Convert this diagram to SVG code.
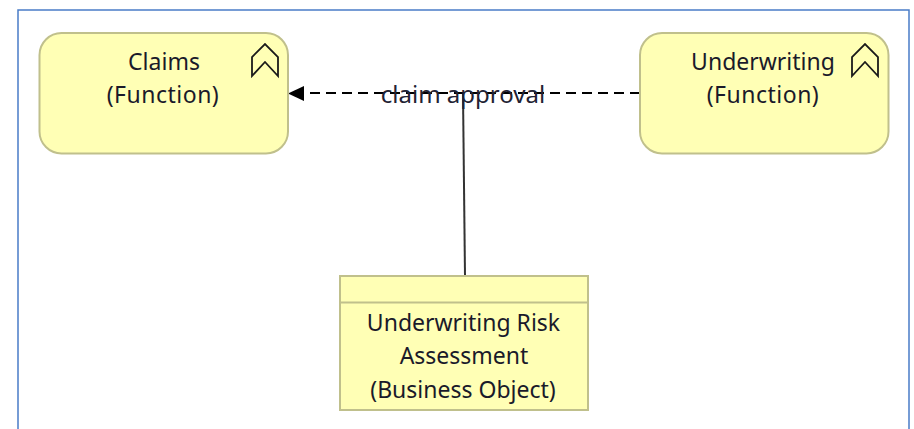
<svg xmlns="http://www.w3.org/2000/svg" width="914" height="429" viewBox="0 0 914 429">
<style>
.n{fill:#ffffb5;stroke:#c0c08c;stroke-width:2}
.t{font-family:"Noto Sans","Open Sans",sans-serif;font-size:23px;fill:#1a1a2a;text-anchor:middle}
.i{fill:none;stroke:#1a1a1a;stroke-width:1.8}
</style>
<rect width="914" height="429" fill="#fff"/>
<path d="M18 429V10H909V429" fill="none" stroke="#4a7cc7" stroke-width="1.5"/>
<g id="connectors">
<path d="M463 94L465 276" fill="none" stroke="#333" stroke-width="2"/>
<path d="M640 93H304" fill="none" stroke="#000" stroke-width="1.8" stroke-dasharray="10 6"/>
<path d="M288 93.500L304 86V101Z" fill="#000"/>
<text class="t" x="463" y="103" style="fill:#223;font-size:24px">claim approval</text>
</g>
<g id="claims">
<rect class="n" x="39.500" y="33" width="248.500" height="120.500" rx="22"/>
<text class="t" x="164" y="70">Claims</text>
<text class="t" x="163" y="103" style="letter-spacing:.5px">(Function)</text>
<path class="i" d="M252 76V57L265 44L278 57V76L265 62Z"/>
</g>
<g id="underwriting">
<rect class="n" x="640" y="33" width="248.500" height="120.500" rx="22"/>
<text class="t" x="763" y="70">Underwriting</text>
<text class="t" x="763" y="103" style="letter-spacing:.5px">(Function)</text>
<path class="i" d="M852 76V57L865 44L878 57V76L865 62Z"/>
</g>
<g id="risk-assessment">
<rect class="n" x="340" y="276" width="248" height="134"/>
<path d="M340 302.500H588" stroke="#c0c08c" stroke-width="2"/>
<text class="t" x="463.500" y="331">Underwriting Risk</text>
<text class="t" x="464" y="364">Assessment</text>
<text class="t" x="463" y="398">(Business Object)</text>
</g>
</svg>
